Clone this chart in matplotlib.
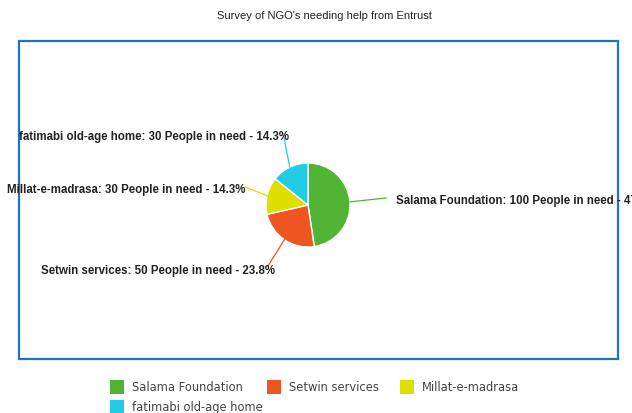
import numpy as np
import matplotlib
matplotlib.use("Agg")
import matplotlib.pyplot as plt
from matplotlib.patches import Rectangle

title = "Survey of NGO's needing help from Entrust"
categories = ["Salama Foundation", "Setwin services", "Millat-e-madrasa", "fatimabi old-age home"]
people = [100, 50, 30, 30]
colors = ["#52b435", "#ee5520", "#dede00", "#22cce4"]

W, H = 632, 414
fig = plt.figure(figsize=(W / 100, H / 100), dpi=100)
ax = fig.add_axes([0, 0, 1, 1])

def Y(y):  # convert top-down pixel to axes y
    return H - y

# pie
cx, cy, r = 308, Y(206), 42
wedges, _ = ax.pie(people, colors=colors, startangle=90, counterclock=False,
                   center=(cx, cy), radius=r, frame=True,
                   wedgeprops=dict(edgecolor="white", linewidth=1.0))
ax.set_xlim(0, W)
ax.set_ylim(0, H)
ax.axis("off")

# title
ax.text(324, Y(16), title, ha="center", va="center", fontsize=8.0,
        family="Liberation Sans", color="#222222")

# frame
ax.add_patch(Rectangle((19, Y(360)), 599, 318, fill=False, edgecolor="#1f74c9", lw=1.6))

total = sum(people)
# label layout: (line end x, line end y(top-down), text x, text y, ha)
layout = [
    (386, 199, 396, 201, "left"),
    (268, 267, 275, 271, "right"),
    (245, 188, 245, 190, "right"),
    (283, 134, 289, 137, "right"),
]
for w, cat, val, col, (lx, ly, tx, ty, ha) in zip(wedges, categories, people, colors, layout):
    mid = np.deg2rad((w.theta1 + w.theta2) / 2)
    sx, sy = cx + r * np.cos(mid), cy + r * np.sin(mid)
    ax.plot([sx, lx], [sy, Y(ly)], color=col, lw=0.9, clip_on=False)
    pct = val / total * 100
    ax.text(tx, Y(ty), f"{cat}: {val} People in need - {pct:.1f}%", ha=ha, va="center",
            fontsize=8.3, fontweight="bold", family="Liberation Sans", color="#222222")

# legend (manual)
leg_pos = [(110, 388), (267, 388), (400, 388), (110, 408)]
for cat, col, (lx, ly) in zip(categories, colors, leg_pos):
    ax.add_patch(Rectangle((lx, Y(ly) - 7), 14, 14, facecolor=col, edgecolor="none", clip_on=False))
    ax.text(lx + 22, Y(ly), cat, ha="left", va="center", fontsize=8.3, family="DejaVu Sans",
            color="#444444")

fig.savefig("out.png", dpi=100)
